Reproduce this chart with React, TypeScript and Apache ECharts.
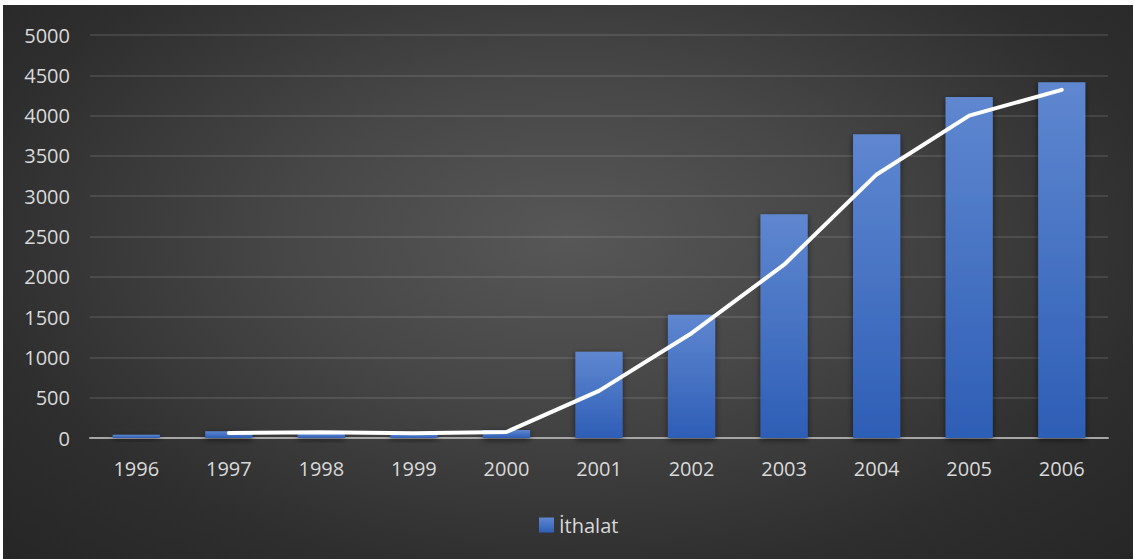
import React, { useEffect, useRef } from "react";
import * as echarts from "echarts";

const years = ["1996", "1997", "1998", "1999", "2000", "2001", "2002", "2003", "2004", "2005", "2006"];
const imports = [40, 85, 55, 50, 100, 1070, 1530, 2775, 3770, 4230, 4415];
const trend = [null, 62, 72, 58, 75, 585, 1300, 2150, 3270, 4000, 4320];
const yTicks = { min: 0, max: 5000, interval: 500 };

export default function App() {
  const ref = useRef<HTMLDivElement>(null);
  useEffect(() => {
    const chart = echarts.init(ref.current!, null, { renderer: "svg" });
    const font = "'Open Sans', 'Liberation Sans', sans-serif";
    chart.setOption({
      animation: false,
      backgroundColor: "transparent",
      textStyle: { fontFamily: font },
      grid: { left: 87, right: 25, top: 30, bottom: 121, containLabel: false },
      legend: {
        data: ["İthalat"],
        left: 531,
        top: 505,
        itemWidth: 15,
        itemHeight: 15,
        itemGap: 6,
        icon: "rect",
        textStyle: { color: "#d9d9d9", fontSize: 20, fontFamily: font },
      },
      xAxis: {
        type: "category",
        data: years,
        axisLine: { lineStyle: { color: "#a6a6a6", width: 2 } },
        axisTick: { show: false },
        axisLabel: { color: "#d9d9d9", fontSize: 20, margin: 20, fontFamily: font },
      },
      yAxis: {
        type: "value",
        min: yTicks.min,
        max: yTicks.max,
        interval: yTicks.interval,
        axisLine: { show: false },
        axisTick: { show: false },
        axisLabel: {
          color: "#d9d9d9",
          fontSize: 20,
          margin: 20,
          fontFamily: font,
          formatter: (v: number) => String(v),
        },
        splitLine: { lineStyle: { color: "rgba(255,255,255,0.1)", width: 2 } },
      },
      series: [
        {
          name: "İthalat",
          type: "bar",
          data: imports,
          barWidth: "51%",
          itemStyle: {
            color: new echarts.graphic.LinearGradient(0, 0, 0, 1, [
              { offset: 0, color: "#5f87d0" },
              { offset: 1, color: "#2e5eb6" },
            ]),
            shadowBlur: 6,
            shadowColor: "rgba(0,0,0,0.55)",
            shadowOffsetY: 2,
          },
        },
        {
          name: "trend",
          type: "line",
          data: trend,
          showSymbol: false,
          symbol: "none",
          connectNulls: false,
          lineStyle: { color: "#ffffff", width: 4, cap: "round" },
          z: 5,
        },
      ],
    });
    return () => chart.dispose();
  }, []);
  return (
    <div
      ref={ref}
      style={{
        position: "absolute",
        left: 3,
        top: 5,
        width: 1130,
        height: 554,
        background: "radial-gradient(ellipse at 50% 42%, #575757 0%, #474747 35%, #2e2e2e 75%, #262626 100%)",
      }}
    />
  );
}
